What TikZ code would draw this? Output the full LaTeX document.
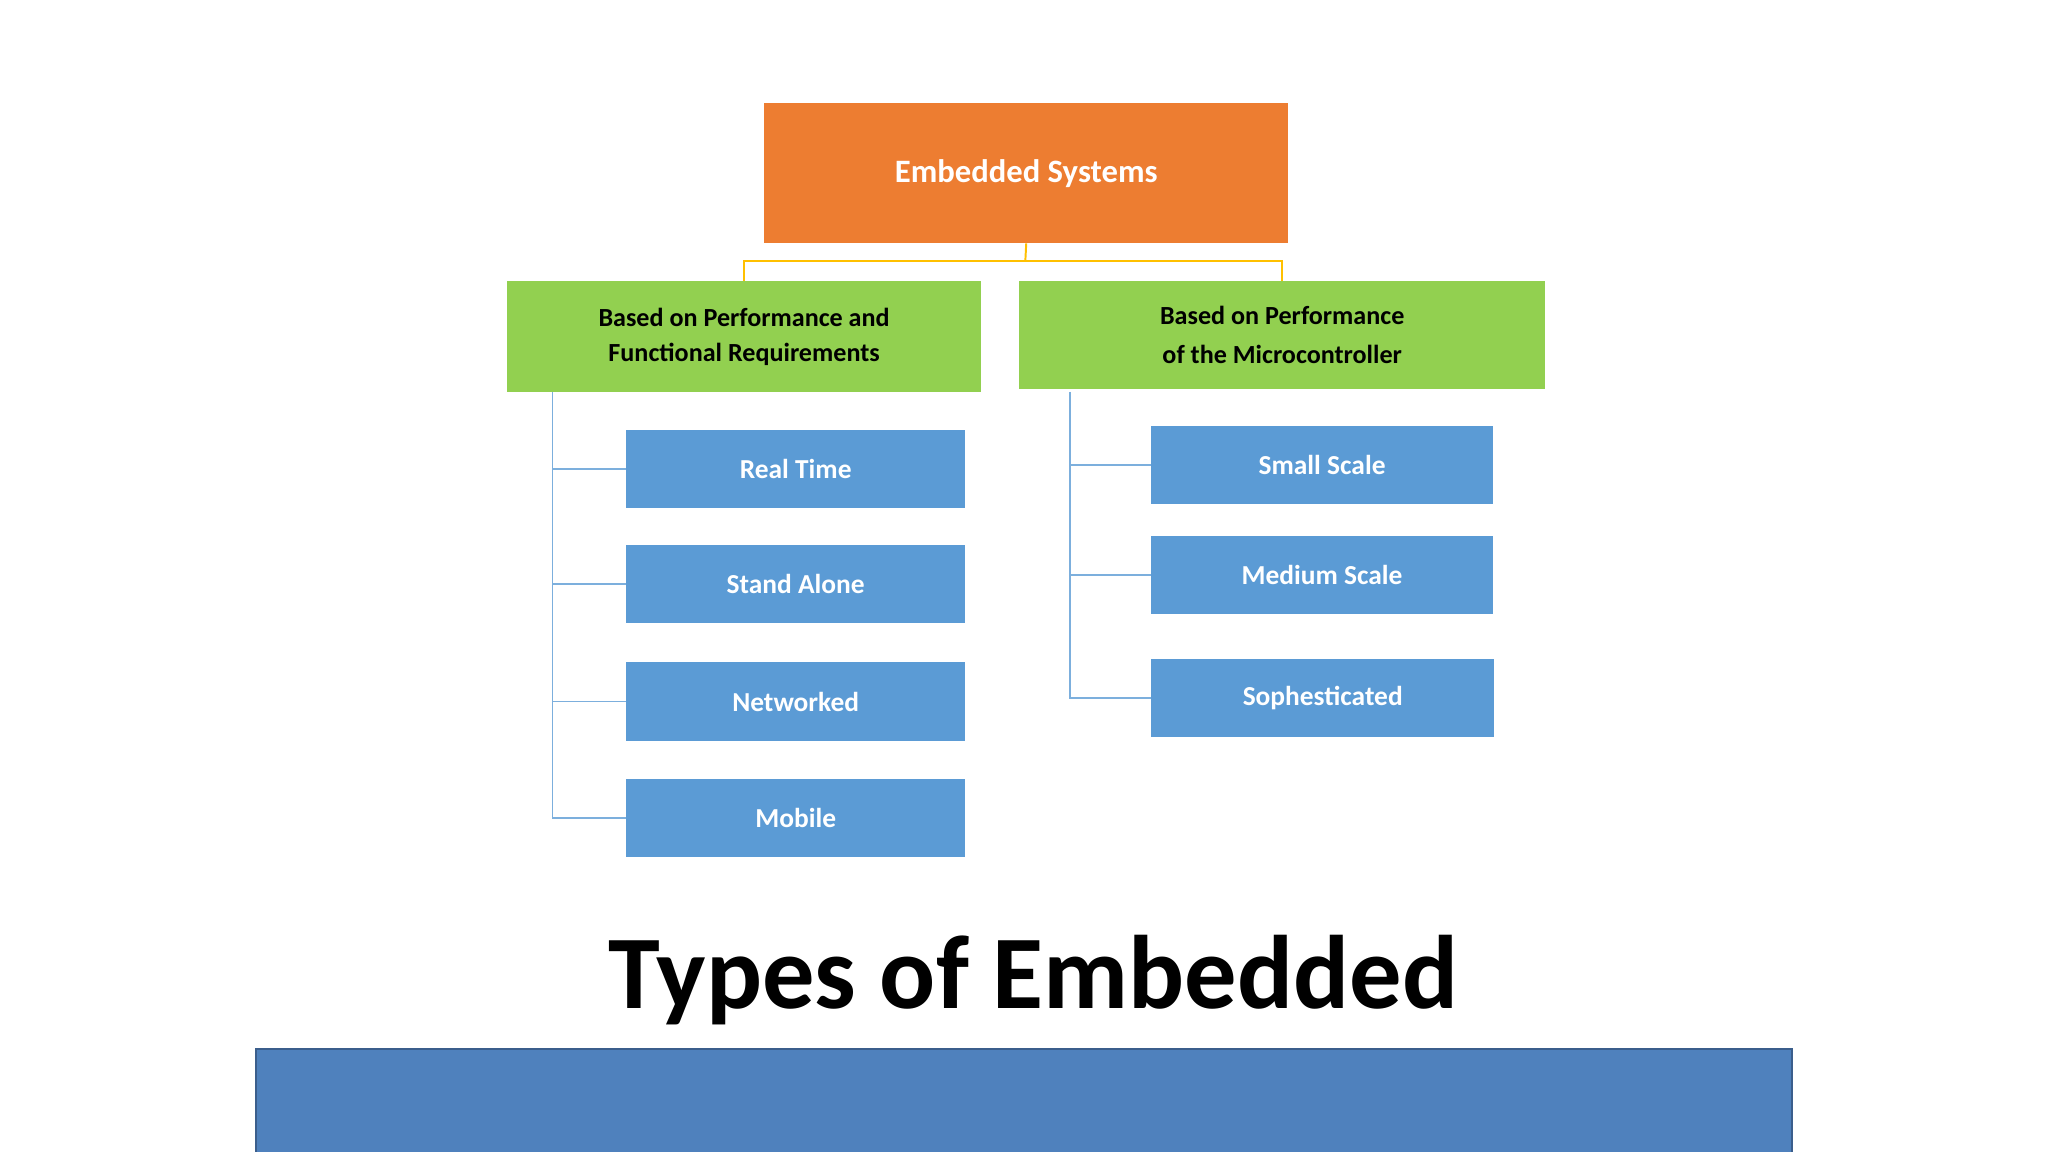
\documentclass[tikz,border=0pt]{standalone}
\usepackage{fontspec}
\setmainfont{Carlito}
\definecolor{orng}{HTML}{ED7D31}
\definecolor{grn}{HTML}{92D050}
\definecolor{blu}{HTML}{5B9BD5}
\definecolor{gold}{HTML}{FFC000}
\definecolor{band}{HTML}{4F81BD}
\definecolor{bandb}{HTML}{3B5E8C}
\begin{document}
\begin{tikzpicture}[x=1pt,y=-1pt,
  box/.style={anchor=north west,inner sep=0pt,font=\bfseries,align=center},
  lnb/.style={draw=blu!80,line width=1.2pt},
  lng/.style={draw=gold,line width=1.5pt}]
\useasboundingbox (0,0) rectangle (1568,882);
\fill[white] (0,0) rectangle (1568,882);
\node[box,fill=orng,text=white,minimum width=401,minimum height=107,font=\bfseries\fontsize{25}{30}\selectfont] (top) at (585,79) {Embedded Systems};
\node[box,fill=grn,minimum width=363,minimum height=85,font=\bfseries\fontsize{20}{27}\selectfont] (g1) at (388,215) {Based on Performance and\\Functional Requirements};
\node[box,fill=grn,minimum width=403,minimum height=83,font=\bfseries\fontsize{20}{30}\selectfont] (g2) at (780,215) {Based on Performance\\of the Microcontroller};
\draw[lng] (top.south) -- (785,200) coordinate (m);
\draw[lng] (g1.north) |- (m) -| (g2.north);
\tikzset{bb/.style={box,fill=blu,text=white,minimum width=260,minimum height=60,font=\bfseries\fontsize{21}{25}\selectfont}}
\node[bb] (a1) at (479,329) {Real Time};
\node[bb] (a2) at (479,417) {Stand Alone};
\node[bb] (a3) at (479,507) {Networked};
\node[bb] (a4) at (479,596) {Mobile};
\node[bb,minimum width=262] (b1) at (881,326) {Small Scale};
\node[bb,minimum width=262] (b2) at (881,410) {Medium Scale};
\node[bb,minimum width=263] (b3) at (881,504) {Sophesticated};
\coordinate (lt) at (423,300);
\coordinate (rt) at (819,300);
\draw[lnb] (lt) |- (a4.west);
\foreach \n in {a1,a2,a3} \draw[lnb] (lt|-\n.west) -- (\n.west);
\draw[lnb] (rt) |- (b3.west);
\foreach \n in {b1,b2} \draw[lnb] (rt|-\n.west) -- (\n.west);
\node[font=\bfseries\fontsize{80}{90}\selectfont] (title) at (791,750) {Types of Embedded};
\draw[fill=band,draw=bandb,line width=2pt] (196,803) rectangle (1372,890);
\end{tikzpicture}
\end{document}
